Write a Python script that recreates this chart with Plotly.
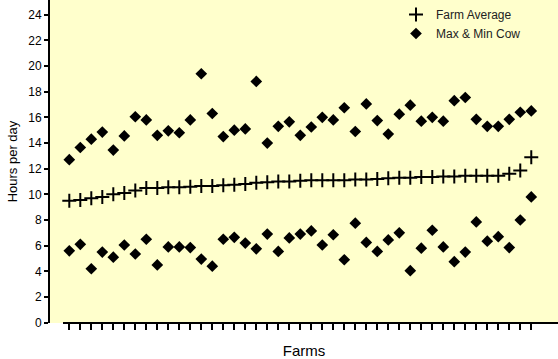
import plotly.graph_objects as go

farms = list(range(1, 44))
farm_average = [9.5, 9.55, 9.7, 9.8, 10.0, 10.1, 10.3, 10.5, 10.5, 10.55,
                10.55, 10.6, 10.65, 10.65, 10.7, 10.75, 10.8, 10.9, 10.95, 11.0,
                11.0, 11.05, 11.1, 11.1, 11.1, 11.1, 11.15, 11.15, 11.2, 11.25,
                11.3, 11.3, 11.35, 11.35, 11.4, 11.4, 11.45, 11.45, 11.45, 11.45,
                11.6, 11.85, 12.9]
max_cow = [12.7, 13.65, 14.3, 14.85, 13.45, 14.55, 16.05, 15.8, 14.6, 14.95,
           14.8, 15.8, 19.4, 16.3, 14.5, 15.0, 15.1, 18.8, 14.0, 15.3,
           15.65, 14.6, 15.25, 16.0, 15.8, 16.75, 14.9, 17.05, 15.75, 14.7,
           16.25, 16.95, 15.7, 16.0, 15.7, 17.3, 17.55, 15.85, 15.3, 15.3,
           15.85, 16.4, 16.5]
min_cow = [5.6, 6.1, 4.2, 5.5, 5.1, 6.05, 5.35, 6.5, 4.5, 5.9,
           5.9, 5.85, 4.95, 4.4, 6.5, 6.65, 6.2, 5.75, 6.9, 5.55,
           6.6, 6.9, 7.15, 6.05, 6.85, 4.9, 7.75, 6.25, 5.55, 6.45,
           7.0, 4.05, 5.8, 7.2, 5.9, 4.75, 5.5, 7.85, 6.35, 6.7,
           5.85, 8.0, 9.8]
y_ticks = list(range(0, 25, 2))

fig = go.Figure()
fig.add_trace(go.Scatter(
    x=farms, y=farm_average, mode="markers", name="Farm Average",
    marker=dict(symbol="cross-thin", size=10, color="black",
                line=dict(color="black", width=2)),
))
fig.add_trace(go.Scatter(
    x=farms + farms, y=max_cow + min_cow, mode="markers", name="Max & Min Cow",
    marker=dict(symbol="diamond", size=9, color="black",
                line=dict(width=0)),
))

W, H = 558, 359
L, R, T, B = 50, 0, 0, 36
plot_w = W - L - R

fig.update_layout(
    width=W, height=H,
    margin=dict(l=L, r=R, t=T, b=B),
    paper_bgcolor="white",
    plot_bgcolor="#FFFFCC",
    font=dict(family="Liberation Sans, Arial, sans-serif", color="black", size=12),
    showlegend=True,
    legend=dict(x=(396 - L) / plot_w, xanchor="left", y=1.0, yanchor="top",
                bgcolor="rgba(0,0,0,0)", font=dict(size=12, color="#222222"),
                tracegroupgap=0),
    xaxis=dict(
        range=[-0.755, 45.43],
        tickvals=farms, showticklabels=False,
        ticks="outside", ticklen=6, tickwidth=2, tickcolor="black",
        showgrid=False, zeroline=False, showline=False,
        title=dict(text="Farms", font=dict(size=15), standoff=16),
    ),
    yaxis=dict(
        range=[-0.03, 25.15],
        tickvals=y_ticks,
        ticks="outside", ticklen=4, tickwidth=1.5, tickcolor="black",
        showgrid=False, zeroline=False,
        showline=True, linewidth=2, linecolor="black",
        title=dict(text="Hours per day", font=dict(size=13), standoff=8),
        tickfont=dict(size=12),
    ),
)
fig.add_shape(type="line", xref="paper", yref="paper",
              x0=(63 - L) / plot_w, x1=1, y0=0, y1=0,
              line=dict(color="black", width=2))

fig.write_html("out.html",
               config={"displayModeBar": False},
               post_script="document.body.style.margin='0';document.body.style.overflow='hidden';")
